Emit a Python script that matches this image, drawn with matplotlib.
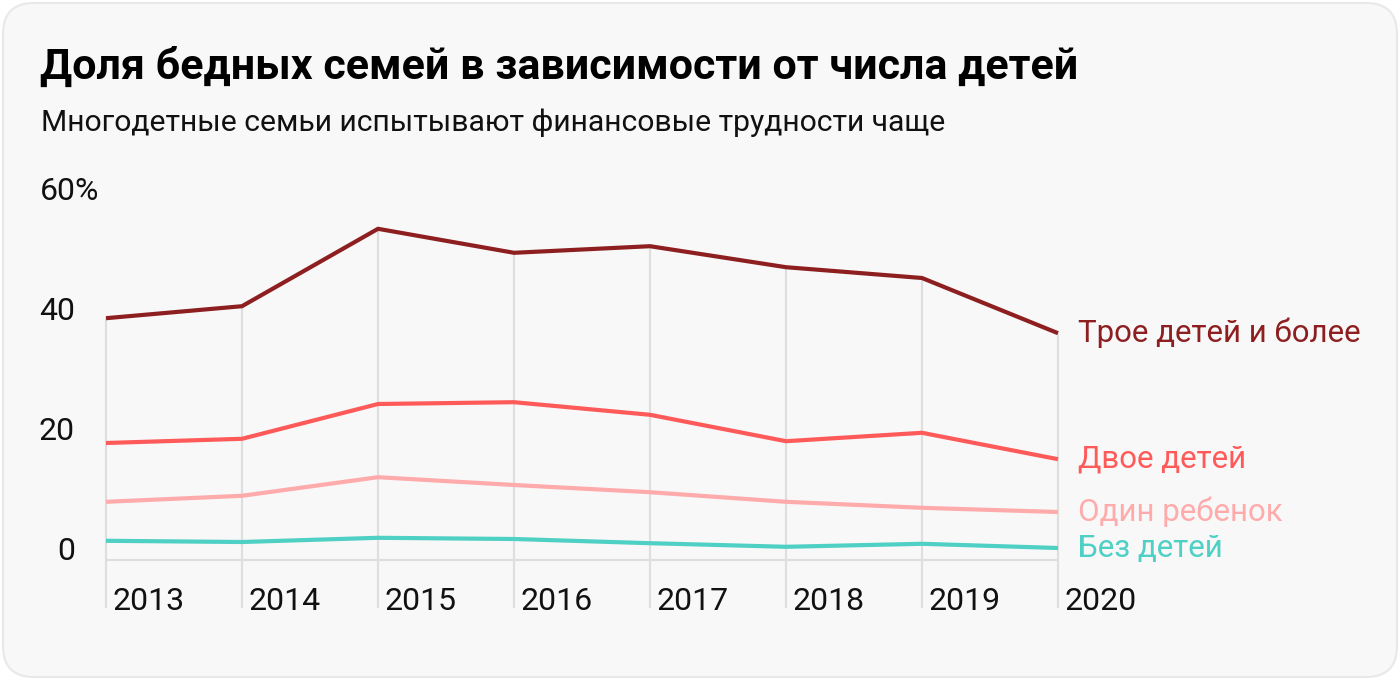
import matplotlib
matplotlib.use("Agg")
import matplotlib.pyplot as plt
from matplotlib.patches import FancyBboxPatch

years = [2013, 2014, 2015, 2016, 2017, 2018, 2019, 2020]
three_plus = [40.3, 42.3, 55.2, 51.2, 52.3, 48.8, 47.0, 37.8]
two_kids = [19.5, 20.2, 26.0, 26.3, 24.2, 19.8, 21.2, 16.8]
one_kid = [9.7, 10.7, 13.8, 12.5, 11.3, 9.7, 8.7, 8.0]
no_kids = [3.2, 3.0, 3.7, 3.5, 2.8, 2.2, 2.7, 2.0]
series_names = ["Трое детей и более", "Двое детей", "Один ребенок", "Без детей"]
series_colors = ["#8e1f21", "#ff5a5a", "#ffabab", "#4fd0c4"]
yticks = [0, 20, 40, 60]
ytick_labels = ["0", "20", "40", "60%"]
title = "Доля бедных семей в зависимости от числа детей"
subtitle = "Многодетные семьи испытывают финансовые трудности чаще"

plt.rcParams['font.family'] = ['Roboto', 'DejaVu Sans']

W, H = 1400, 680
PT = 72 / 100  # points per pixel
fig = plt.figure(figsize=(W / 100, H / 100), dpi=100)
fig.patch.set_facecolor("white")

card = FancyBboxPatch((3 / W, 3 / H), (W - 6) / W, (H - 6) / H,
                      boxstyle="round,pad=0,rounding_size=0.022",
                      transform=fig.transFigure, facecolor="#f8f8f8",
                      edgecolor="#e8e8e8", linewidth=1.5, mutation_aspect=W / H,
                      zorder=-10)
fig.patches.append(card)

fig.text(40 / W, 1 - 67 / H, title, fontsize=31, fontweight="bold",
         color="#000000", va="center", ha="left")
fig.text(41 / W, 1 - 123 / H, subtitle, fontsize=21.7, color="#111111",
         va="center", ha="left")

ax = fig.add_axes([106 / W, 120 / H, 952 / W, 360 / H])
ax.set_zorder(5)
ax.set_facecolor("none")
ax.set_xlim(2013, 2020)
ax.set_ylim(0, 60)
ax.axis("off")

all_series = [three_plus, two_kids, one_kid, no_kids]
tops = [max(s[i] for s in all_series) for i in range(len(years))]
ax.vlines(years, -8, tops, colors="#dedede", linewidth=1.5, clip_on=False, zorder=1)
ax.hlines(0, years[0], years[-1], colors="#dedede", linewidth=1.5, clip_on=False, zorder=1)

for s, name, c in zip(all_series, series_names, series_colors):
    ax.plot(years, s, color=c, linewidth=3.0, clip_on=False, zorder=3,
            solid_capstyle="butt", solid_joinstyle="miter")
    ax.annotate(name, xy=(years[-1], s[-1]), xytext=(20 * PT, 0),
                textcoords="offset points", fontsize=22.5, color=c,
                va="center", ha="left", annotation_clip=False)

for v, lab in zip(yticks, ytick_labels):
    if lab.endswith("%"):
        dx, ha = -66 * PT, "left"
    else:
        dx, ha = -31 * PT, "right"
    ax.annotate(lab, xy=(years[0], v), xytext=(dx, 0), textcoords="offset points",
                fontsize=23, color="#111111", va="baseline", ha=ha,
                annotation_clip=False)

for yr in years:
    ax.annotate(str(yr), xy=(yr, 0), xytext=(7 * PT, -42 * PT), textcoords="offset points",
                fontsize=23, color="#111111", va="center", ha="left",
                annotation_clip=False)

fig.savefig("out.png", dpi=100, facecolor=fig.get_facecolor())
